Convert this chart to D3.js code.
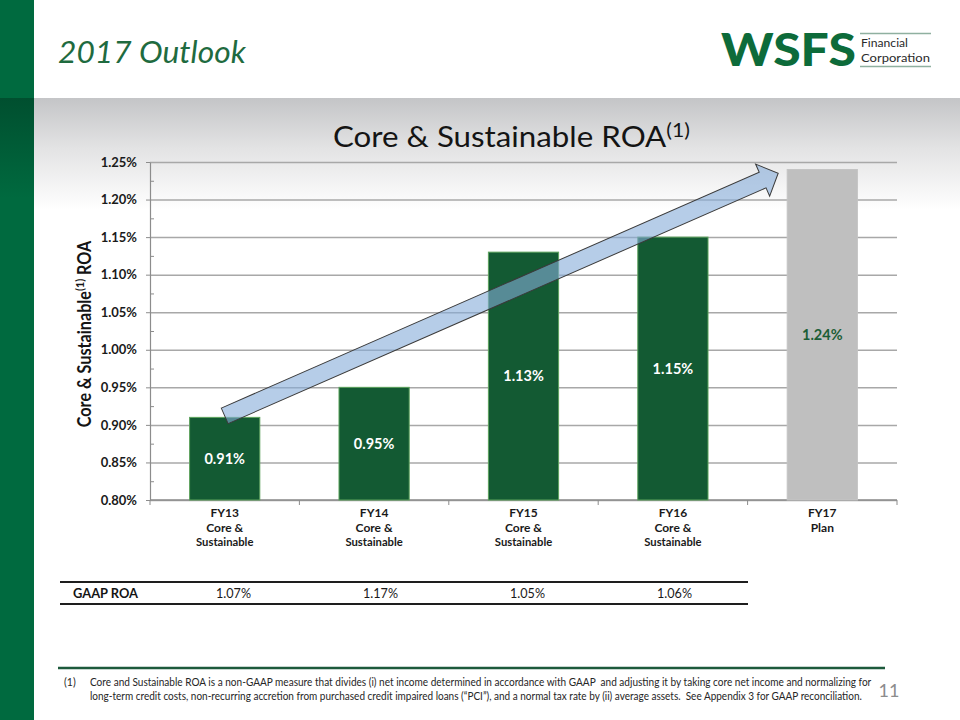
<!DOCTYPE html>
<html><head><meta charset="utf-8">
<script src="https://cdn.jsdelivr.net/npm/d3@7"></script>
<style>html,body{margin:0;padding:0;background:#fff;} svg{display:block;} text{white-space:pre;}</style>
</head><body>
<svg id="chart" width="960" height="720"></svg>
<script>
// ---------- data ----------
const categories = ["FY13", "FY14", "FY15", "FY16", "FY17"];
const categoryLabels = [
  ["FY13", "Core &", "Sustainable"],
  ["FY14", "Core &", "Sustainable"],
  ["FY15", "Core &", "Sustainable"],
  ["FY16", "Core &", "Sustainable"],
  ["FY17", "Plan"]
];
const roaValues = [0.91, 0.95, 1.13, 1.15, 1.24];
const planFlags = [false, false, false, false, true];
const yTickValues = [0.80, 0.85, 0.90, 0.95, 1.00, 1.05, 1.10, 1.15, 1.20, 1.25];
const gaapCategories = ["FY13", "FY14", "FY15", "FY16"];
const gaapValues = [1.07, 1.17, 1.05, 1.06];
const arrowFrom = ["FY13", 0.912];
const arrowTo = ["FY17", 1.235];
const pageTitle = "2017 Outlook";
const chartTitle = "Core & Sustainable ROA";
const footnoteLines = [
  "Core and Sustainable ROA is a non-GAAP measure that divides (i) net income determined in accordance with GAAP  and adjusting it by taking core net income and normalizing for",
  "long-term credit costs, non-recurring accretion from purchased credit impaired loans (\u201CPCI\u201D), and a normal tax rate by (ii) average assets.  See Appendix 3 for GAAP reconciliation."
];

// ---------- setup ----------
const svg = d3.select("#chart");
const FONT = "Lato, 'Open Sans', 'DejaVu Sans', sans-serif";
const plot = {left: 150, right: 897, top: 162, bottom: 500};

// text helper with horizontal fit
function label(parent, o) {
  const g = parent.append("g");
  const t = g.append("text")
    .attr("x", 0).attr("y", 0)
    .attr("font-family", o.family || FONT)
    .attr("font-size", o.size)
    .attr("font-weight", o.weight || "normal")
    .attr("font-style", o.style || "normal")
    .attr("fill", o.fill || "#1a1a1a")
    .attr("text-anchor", o.anchor || "start");
  if (o.text !== undefined) t.text(o.text);
  if (o.build) o.build(t);
  let k = 1;
  if (o.width) {
    const w = t.node().getBBox().width;
    if (w > 0) k = o.width / w;
  }
  g.attr("transform", `translate(${o.x},${o.y})` + (o.rotate ? ` rotate(${o.rotate})` : "") + ` scale(${k},1)`);
  return t;
}

// ---------- background ----------
const defs = svg.append("defs");
const bgGrad = defs.append("linearGradient").attr("id", "bgGrad").attr("x1", 0).attr("x2", 0).attr("y1", 0).attr("y2", 1);
bgGrad.append("stop").attr("offset", 0).attr("stop-color", "#c4c5c7");
bgGrad.append("stop").attr("offset", 0.45).attr("stop-color", "#e3e3e4");
bgGrad.append("stop").attr("offset", 1).attr("stop-color", "#ffffff");
const stripGrad = defs.append("linearGradient").attr("id", "stripGrad").attr("x1", 0).attr("x2", 0).attr("y1", 0).attr("y2", 1);
stripGrad.append("stop").attr("offset", 0).attr("stop-color", "#004f2f");
stripGrad.append("stop").attr("offset", 1).attr("stop-color", "#006a3f");

svg.append("rect").attr("width", 960).attr("height", 720).attr("fill", "#ffffff");
svg.append("rect").attr("x", 34).attr("y", 98).attr("width", 926).attr("height", 112).attr("fill", "url(#bgGrad)");
svg.append("rect").attr("x", 0).attr("y", 0).attr("width", 34).attr("height", 720).attr("fill", "#006a3f");
svg.append("rect").attr("x", 0).attr("y", 98).attr("width", 34).attr("height", 100).attr("fill", "url(#stripGrad)");

// ---------- header ----------
label(svg, {x: 58, y: 63, text: pageTitle, size: 31, style: "italic", fill: "#1f6b3f", width: 188});

// logo
label(svg, {x: 721, y: 66, text: "WSFS", size: 46, weight: 900, fill: "#0d6b3a", width: 135});
svg.append("line").attr("x1", 860).attr("x2", 931).attr("y1", 33.5).attr("y2", 33.5).attr("stroke", "#8fb0a0").attr("stroke-width", 1.5);
svg.append("line").attr("x1", 860).attr("x2", 931).attr("y1", 66.5).attr("y2", 66.5).attr("stroke", "#8fb0a0").attr("stroke-width", 1.5);
label(svg, {x: 861, y: 47, text: "Financial", size: 12, fill: "#2a2a2a", width: 47});
label(svg, {x: 861, y: 61.5, text: "Corporation", size: 12, fill: "#2a2a2a", width: 69});

// chart title
label(svg, {x: 333, y: 147, size: 28, fill: "#141414", width: 357, build: t => {
  t.append("tspan").text(chartTitle);
  t.append("tspan").attr("font-size", 19).attr("dy", -10).text("(1)");
}});

// ---------- scales ----------
const x = d3.scaleBand().domain(categories).range([plot.left, plot.right]).paddingInner(0.53).paddingOuter(0.265);
const y = d3.scaleLinear().domain([d3.min(yTickValues), d3.max(yTickValues)]).range([plot.bottom, plot.top]);
const data = categories.map((c, i) => ({cat: c, value: roaValues[i], plan: planFlags[i], lines: categoryLabels[i]}));

// gridlines
const grid = svg.append("g").attr("transform", `translate(${plot.left},0)`)
  .call(d3.axisRight(y).tickValues(yTickValues).tickSize(plot.right - plot.left).tickFormat(""));
grid.select(".domain").remove();
grid.selectAll(".tick line").attr("stroke", "#a8a8a8").attr("stroke-width", 1.5);

// y axis
const yAxis = svg.append("g").attr("transform", `translate(${plot.left},0)`)
  .call(d3.axisLeft(y).tickValues(yTickValues).tickSize(4).tickSizeOuter(0).tickPadding(9)
    .tickFormat(d => d.toFixed(2) + "%"));
yAxis.select(".domain").attr("stroke", "#8c8c8c").attr("stroke-width", 1.2);
yAxis.selectAll(".tick line").attr("stroke", "#8c8c8c");
yAxis.selectAll(".tick text").attr("font-family", FONT).attr("font-size", 13).attr("font-weight", "bold").attr("fill", "#1a1a1a");

// minor ticks
const minorVals = d3.pairs(yTickValues).map(p => (p[0] + p[1]) / 2);
const minor = svg.append("g").attr("transform", `translate(${plot.left},0)`)
  .call(d3.axisRight(y).tickValues(minorVals).tickSize(4).tickFormat(""));
minor.select(".domain").remove();
minor.selectAll(".tick line").attr("stroke", "#8c8c8c");

// x axis
const step = x.step();
const bounds = d3.range(categories.length + 1).map(i => plot.left + i * step);
svg.append("line").attr("x1", plot.left).attr("x2", plot.right).attr("y1", plot.bottom).attr("y2", plot.bottom)
  .attr("stroke", "#8c8c8c").attr("stroke-width", 1.5);
svg.append("g").selectAll("line").data(bounds).join("line")
  .attr("x1", d => d).attr("x2", d => d).attr("y1", plot.bottom).attr("y2", plot.bottom + 5)
  .attr("stroke", "#8c8c8c");

// bars
svg.append("g").selectAll("rect").data(data).join("rect")
  .attr("x", d => x(d.cat))
  .attr("y", d => y(d.value))
  .attr("width", x.bandwidth())
  .attr("height", d => y(y.domain()[0]) - y(d.value))
  .attr("fill", d => d.plan ? "#bfbfbf" : "#135a33")
  .attr("stroke", d => d.plan ? "#c4c4c4" : "#5da35d")
  .attr("stroke-width", 1);

// bar labels
data.forEach(d => {
  const cx = x(d.cat) + x.bandwidth() / 2;
  const cy = (y(d.value) + y(y.domain()[0])) / 2 + 5;
  label(svg, {x: cx, y: cy, text: d.value.toFixed(2) + "%", size: 14.5, weight: "bold",
    fill: d.plan ? "#1c5e36" : "#ffffff", anchor: "middle"});
});

// category labels
data.forEach(d => {
  const cx = x(d.cat) + x.bandwidth() / 2;
  d.lines.forEach((ln, j) => {
    label(svg, {x: cx, y: plot.bottom + 17 + j * 14.5, text: ln, size: 12, weight: "bold", fill: "#1a1a1a", anchor: "middle",
      width: ln === "Sustainable" ? 58 : undefined});
  });
});

// y axis title
label(svg, {x: 91, y: 334, rotate: -90, size: 18, weight: "bold", fill: "#141414", anchor: "middle", width: 187,
  build: t => {
    t.append("tspan").text("Core & Sustainable");
    t.append("tspan").attr("font-size", 12).attr("dy", -7).text("(1)");
    t.append("tspan").attr("dy", 7).text(" ROA");
  }});

// arrow
(function () {
  const x0 = x(arrowFrom[0]) + x.bandwidth() / 2, y0 = y(arrowFrom[1]);
  const x1 = x(arrowTo[0]) - 9, y1 = y(arrowTo[1]);
  const L = Math.hypot(x1 - x0, y1 - y0);
  const ang = Math.atan2(y1 - y0, x1 - x0) * 180 / Math.PI;
  const sw = 8.5, hw = 17.5, hl = 17;
  const pts = [[0, -sw], [L - hl, -sw], [L - hl, -hw], [L, 0], [L - hl, hw], [L - hl, sw], [0, sw]];
  svg.append("path")
    .attr("transform", `translate(${x0},${y0}) rotate(${ang})`)
    .attr("d", d3.line()(pts) + "Z")
    .attr("fill", "#86abd9").attr("fill-opacity", 0.6)
    .attr("stroke", "#3a3a3a").attr("stroke-width", 1).attr("stroke-linejoin", "miter");
})();

// ---------- GAAP table ----------
const tx = d3.scaleBand().domain(gaapCategories).range([160, 748]);
svg.append("line").attr("x1", 60).attr("x2", 748).attr("y1", 582).attr("y2", 582).attr("stroke", "#1e1e1e").attr("stroke-width", 2);
svg.append("line").attr("x1", 60).attr("x2", 748).attr("y1", 604).attr("y2", 604).attr("stroke", "#1e1e1e").attr("stroke-width", 2);
label(svg, {x: 73, y: 598, text: "GAAP ROA", size: 13, weight: "bold", fill: "#141414", width: 66});
gaapCategories.forEach((c, i) => {
  label(svg, {x: tx(c) + tx.bandwidth() / 2, y: 598, text: gaapValues[i].toFixed(2) + "%", size: 14, fill: "#1a1a1a", anchor: "middle", width: 35});
});

// ---------- footnote ----------
svg.append("line").attr("x1", 58).attr("x2", 885).attr("y1", 668).attr("y2", 668).attr("stroke", "#1d5a3c").attr("stroke-width", 2.5);
label(svg, {x: 64, y: 686, text: "(1)", size: 10.5, fill: "#262626"});
label(svg, {x: 90, y: 686, text: footnoteLines[0], size: 10.5, fill: "#262626", width: 783});
label(svg, {x: 90, y: 700, text: footnoteLines[1], size: 10.5, fill: "#262626", width: 772});
label(svg, {x: 889, y: 697, text: "11", size: 18, fill: "#8c8c8c", anchor: "middle"});
</script>
</body></html>
